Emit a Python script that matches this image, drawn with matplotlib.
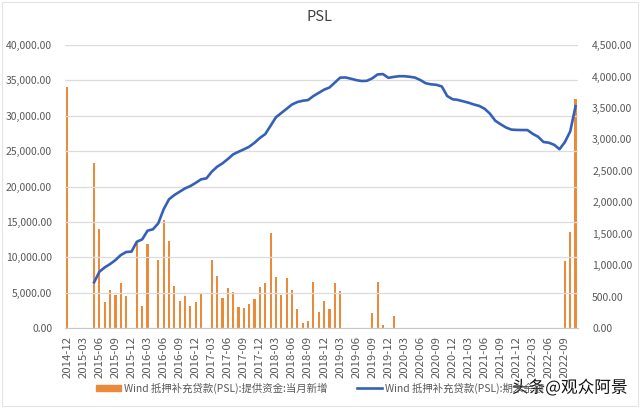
import matplotlib
matplotlib.use("Agg")
import matplotlib.pyplot as plt
import matplotlib.patheffects as pe
from matplotlib.patches import Patch, Rectangle
from matplotlib.lines import Line2D
import pandas as pd

plt.rcParams["font.family"] = ["Noto Sans CJK SC", "DejaVu Sans"]

# monthly axis, 2014-12 .. 2022-11
months = list(pd.period_range("2014-12", periods=96, freq="M").strftime("%Y-%m"))

# PSL new funds provided in the month (right axis)
new_funds = [
    3831, 0, 0, 0, 0, 2628, 1575, 418, 604, 525, 710, 514,
    0, 1347, 355, 1336, 0, 1081, 1717, 1390, 673, 434, 504, 350,
    408, 536, 0, 1081, 827, 472, 631, 572, 339, 313, 377, 456,
    657, 710, 1506, 806, 530, 795, 604, 302, 84, 116, 731, 254,
    429, 307, 715, 583, 0, 0, 0, 0, 0, 234, 730, 52,
    0, 195, 0, 0, 0, 0, 0, 0, 0, 0, 0, 0,
    0, 0, 0, 0, 0, 0, 0, 0, 0, 0, 0, 0,
    0, 0, 0, 0, 0, 0, 0, 0, 0, 1060, 1525, 3640,
]

# PSL balance at end of month (left axis), starts 2015-05
balance_start = 5
balance = [
    6459, 7958, 8576, 9046, 9611, 10318, 10742, 10811, 12200, 12537,
    13765, 13955, 14802, 16780, 18190, 18800, 19270, 19740, 20070, 20526,
    21020, 21160, 22100, 22800, 23280, 23890, 24550, 24920, 25260, 25630,
    26200, 26876, 27420, 28600, 29800, 30400, 31000, 31600, 31950, 32130,
    32230, 32800, 33250, 33700, 34000, 34700, 35400, 35420, 35250, 35050,
    34920, 34950, 35300, 35850, 35900, 35374, 35500, 35600, 35600, 35520,
    35400, 35050, 34600, 34450, 34380, 34150, 32800, 32350, 32250, 32050,
    31850, 31600, 31400, 31000, 30300, 29300, 28800, 28350, 28050, 28007,
    27990, 27990, 27450, 27040, 26300, 26200, 25900, 25283, 26284, 27795,
    31363,
]

label_bar = "Wind 抵押补充贷款(PSL):提供资金:当月新增"
label_line = "Wind 抵押补充贷款(PSL):期末余额"

orange = "#EC8A3C"
blue = "#3560B8"
grey = "#595959"

fig = plt.figure(figsize=(6.4, 4.08), dpi=100)
ax = fig.add_axes([0.101, 0.196, 0.8025, 0.6935])
ax2 = ax.twinx()
ax.set_zorder(ax2.get_zorder() + 1)
ax.patch.set_visible(False)

xs = list(range(len(months)))
ax2.bar(xs, new_funds, width=0.4, color=orange)
ax.plot(xs[balance_start:balance_start + len(balance)], balance,
        color=blue, lw=1.9, solid_joinstyle="round")

ax.set_xlim(-0.5, len(months) - 0.5)
ax.set_ylim(0, 40000)
ax2.set_ylim(0, 4500)
ax.set_yticks(range(0, 40001, 5000))
ax2.set_yticks(range(0, 4501, 500))
ax.set_yticklabels([f"{v:,.2f}" for v in range(0, 40001, 5000)])
ax2.set_yticklabels([f"{v:,.2f}" for v in range(0, 4501, 500)])
ax.grid(axis="y", color="#DCDCDC", lw=0.9)
ax.set_axisbelow(True)

ax.set_xticks(xs[::3])
ax.set_xticklabels(months[::3], rotation=90)

for a in (ax, ax2):
    for s in a.spines.values():
        s.set_visible(False)
    a.tick_params(length=0, labelsize=7.5, labelcolor=grey)
ax.spines["bottom"].set_visible(True)
ax.spines["bottom"].set_color("#C8C8C8")
ax.tick_params(axis="y", pad=9)
ax2.tick_params(axis="y", pad=10)
ax.tick_params(axis="x", pad=6, labelsize=8.2)

fig.text(0.5, 0.958, "PSL", ha="center", va="center", fontsize=10.5, color="#404040")

handles = [Patch(color=orange), Line2D([], [], color=blue, lw=1.9)]
fig.legend(handles, [label_bar, label_line], loc="center", bbox_to_anchor=(0.5, 0.049),
           ncol=2, frameon=False, fontsize=7.5, labelcolor=grey, handlelength=2.4,
           handleheight=0.5, handletextpad=0.3, columnspacing=2.8)

fig.text(0.89, 0.049, "头条@观众阿景", ha="center", va="center", fontsize=12, color="#111111",
         path_effects=[pe.withStroke(linewidth=3, foreground="white")])

fig.patches.append(Rectangle((0.003, 0.005), 0.994, 0.99, transform=fig.transFigure,
                             fill=False, edgecolor="#E4E4E4", lw=0.8))

fig.savefig("out.png", dpi=100)
